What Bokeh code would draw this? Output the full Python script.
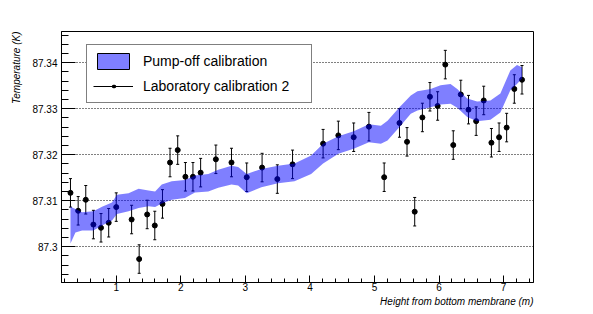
from bokeh.plotting import figure
from bokeh.models import (ColumnDataSource, FixedTicker, CustomJSTickFormatter, Whisker,
                          TeeHead, Legend, LegendItem, Range1d, Title)
from bokeh.embed import file_html
from bokeh.resources import INLINE
import numpy as np

# ---- data: laboratory calibration 2 (points with errors) ----
height_m = [0.291, 0.410, 0.528, 0.646, 0.764, 0.883, 1.000, 1.238, 1.355, 1.479,
            1.597, 1.716, 1.833, 1.952, 2.071, 2.188, 2.307, 2.543, 2.785, 3.021,
            3.259, 3.495, 3.731, 4.204, 4.440, 4.678, 4.914, 5.150, 5.387, 5.504,
            5.623, 5.742, 5.859, 5.978, 6.097, 6.220, 6.337, 6.456, 6.575, 6.692,
            6.811, 6.930, 7.047, 7.166, 7.285]
temp_K = [87.3117, 87.3078, 87.3102, 87.3048, 87.3041, 87.3052, 87.3086, 87.3059, 87.2973, 87.3070,
          87.3046, 87.3093, 87.3183, 87.3210, 87.3152, 87.3152, 87.3161, 87.3190, 87.3183, 87.3151,
          87.3172, 87.3147, 87.3179, 87.3224, 87.3242, 87.3238, 87.3261, 87.3151, 87.3269, 87.3228,
          87.3076, 87.3281, 87.3326, 87.3306, 87.3396, 87.3221, 87.3331, 87.3298, 87.3273, 87.3318,
          87.3226, 87.3238, 87.3259, 87.3343, 87.3363]
temp_err = [0.0031, 0.0031, 0.0031, 0.0031, 0.0031, 0.0031, 0.0031, 0.0031, 0.0031, 0.0031,
            0.0031, 0.0031, 0.0031, 0.0031, 0.0031, 0.0031, 0.0031, 0.0031, 0.0031, 0.0031,
            0.0031, 0.0031, 0.0031, 0.0031, 0.0031, 0.0031, 0.0031, 0.0031, 0.0031, 0.0031,
            0.0031, 0.0031, 0.0031, 0.0031, 0.0031, 0.0031, 0.0031, 0.0031, 0.0031, 0.0031,
            0.0031, 0.0031, 0.0031, 0.0031, 0.0031]

# ---- data: pump-off calibration band ----
band_x = [0.291, 0.368, 0.471, 0.646, 0.780, 0.934, 1.011, 1.191, 1.346, 1.500,
          1.602, 1.705, 1.860, 2.065, 2.219, 2.426, 2.580, 2.785, 2.888, 3.021,
          3.248, 3.505, 3.761, 4.019, 4.204, 4.440, 4.678, 4.914, 5.099, 5.202,
          5.387, 5.562, 5.665, 5.870, 6.024, 6.178, 6.282, 6.436, 6.590, 6.796,
          6.950, 7.104, 7.207, 7.285]
band_lo = [87.3007, 87.3031, 87.3035, 87.3035, 87.3046, 87.3057, 87.3071, 87.3077, 87.3084, 87.3088,
           87.3086, 87.3094, 87.3102, 87.3106, 87.3118, 87.3120, 87.3128, 87.3135, 87.3133, 87.3116,
           87.3129, 87.3138, 87.3142, 87.3158, 87.3181, 87.3202, 87.3213, 87.3227, 87.3224, 87.3231,
           87.3260, 87.3289, 87.3296, 87.3303, 87.3309, 87.3311, 87.3302, 87.3282, 87.3273, 87.3276,
           87.3292, 87.3340, 87.3354, 87.3366]
band_hi = [87.3087, 87.3082, 87.3075, 87.3077, 87.3087, 87.3096, 87.3113, 87.3116, 87.3126, 87.3122,
           87.3120, 87.3135, 87.3142, 87.3145, 87.3155, 87.3158, 87.3167, 87.3176, 87.3173, 87.3158,
           87.3169, 87.3176, 87.3181, 87.3198, 87.3224, 87.3240, 87.3251, 87.3266, 87.3263, 87.3274,
           87.3303, 87.3329, 87.3338, 87.3343, 87.3351, 87.3354, 87.3343, 87.3322, 87.3316, 87.3318,
           87.3333, 87.3383, 87.3395, 87.3390]

x_ticks = [1, 2, 3, 4, 5, 6, 7]
y_ticks = [87.30, 87.31, 87.32, 87.33, 87.34]

FONT = "Liberation Sans"
X0, X1 = 0.152, 7.463
Y0, Y1 = 87.2922, 87.3468

p = figure(width=593, height=314, output_backend="svg", toolbar_location=None,
           x_range=Range1d(X0, X1), y_range=Range1d(Y0, Y1),
           min_border_left=59, min_border_right=60, min_border_top=31, min_border_bottom=32)
p.title.visible = False
p.background_fill_color = "white"
p.border_fill_color = "white"
p.outline_line_color = "black"
p.outline_line_width = 1

# axes
x_minor = [round(v, 1) for v in np.arange(0.2, 7.5, 0.2) if abs(v - round(v)) > 1e-6]
y_minor = [round(v, 3) for v in np.arange(87.292, 87.347, 0.002)]
p.xaxis.ticker = FixedTicker(ticks=x_ticks, minor_ticks=x_minor)
p.yaxis.ticker = FixedTicker(ticks=y_ticks, minor_ticks=y_minor)
p.yaxis.formatter = CustomJSTickFormatter(code="return (Math.round(tick*1000)/1000).toString();")
for ax in (p.xaxis, p.yaxis):
    ax.axis_line_color = "black"
    ax.major_tick_line_color = "black"
    ax.minor_tick_line_color = "black"
    ax.major_tick_out = 0
    ax.minor_tick_out = 0
    ax.major_label_text_font = FONT
    ax.major_label_text_font_size = "10px"
    ax.major_label_text_color = "black"
p.xaxis.major_tick_in = 7
p.xaxis.minor_tick_in = 4
p.xaxis.major_label_standoff = 0
p.yaxis.major_tick_in = 14
p.yaxis.minor_tick_in = 7
p.yaxis.major_label_standoff = 4

p.xgrid.visible = False
p.ygrid.grid_line_color = "black"
p.ygrid.grid_line_dash = "1 2"
p.ygrid.grid_line_width = 1

# error bars + points
src = ColumnDataSource(dict(x=height_m, y=temp_K,
                            lo=[t - e for t, e in zip(temp_K, temp_err)],
                            hi=[t + e for t, e in zip(temp_K, temp_err)]))
wh = Whisker(source=src, base="x", lower="lo", upper="hi", line_color="black", line_width=1,
             lower_head=TeeHead(size=3, line_color="black", line_width=1),
             upper_head=TeeHead(size=3, line_color="black", line_width=1))
p.add_layout(wh)
p.scatter("x", "y", source=src, size=5, color="black")

# band (drawn on top, semi-transparent)
p.varea(x=band_x, y1=band_lo, y2=band_hi, fill_color="blue", fill_alpha=0.5)

# legend proxies (NaN data -> nothing drawn in the frame)
nan = float("nan")
leg_band = p.quad(left=[nan], right=[nan], top=[nan], bottom=[nan], fill_color="blue",
                  fill_alpha=0.5, line_color="black", line_width=1)
leg_line = p.line(x=[nan, nan], y=[nan, nan], line_color="black", line_width=1)
# small centred dot for the legend: a single short round-capped dash in the middle
leg_dot = p.line(x=[nan, nan], y=[nan, nan], line_color="black", line_width=3.5,
                 line_cap="round", line_dash="1 39", line_dash_offset=20)
legend = Legend(items=[LegendItem(label="Pump-off calibration", renderers=[leg_band]),
                       LegendItem(label="Laboratory calibration 2", renderers=[leg_line, leg_dot])],
                location=(25, 179), padding=6, spacing=5, margin=0,
                glyph_width=40, glyph_height=20, label_height=20,
                label_standoff=10, label_width=162,
                label_text_font=FONT, label_text_font_size="14px", label_text_color="black",
                border_line_color="black", border_line_width=1,
                background_fill_color="white", background_fill_alpha=1)
p.add_layout(legend)

# axis titles
p.add_layout(Title(text="Height from bottom membrane (m)", align="right", text_font=FONT,
                   text_font_style="italic", text_font_size="10px", text_color="black",
                   standoff=0), "below")
p.add_layout(Title(text="Temperature (K)", align="right", text_font=FONT,
                   text_font_style="italic", text_font_size="10px", text_color="black",
                   standoff=16), "left")

open("out.html", "w").write(file_html(p, INLINE))
